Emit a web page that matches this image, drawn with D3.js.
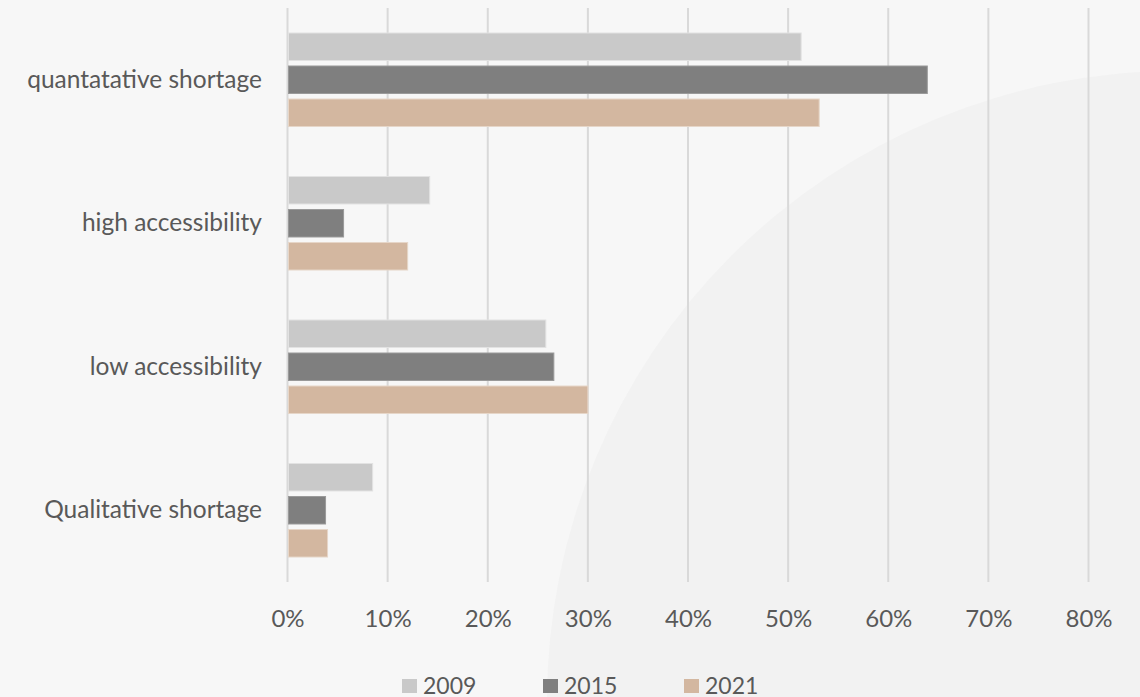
<!DOCTYPE html>
<html><head><meta charset="utf-8">
<script src="https://cdn.jsdelivr.net/npm/d3@7"></script>
<style>html,body{margin:0;padding:0;background:#f7f7f7;overflow:hidden}</style>
</head><body>
<svg id="c" width="1140" height="697"></svg>
<script>
const categories = ["quantatative shortage","high accessibility","low accessibility","Qualitative shortage"];
const seriesNames = ["2009","2015","2021"];
const values2009 = [51.3, 14.2, 25.8, 8.5];
const values2015 = [63.9, 5.6, 26.6, 3.8];
const values2021 = [53.1, 12.0, 30.0, 4.0];
const tickValues = [0,10,20,30,40,50,60,70,80];
const colors = ["#c9c9c9","#7f7f7f","#d3b7a0"];
const strokes = ["#e2e2e2","#9a9a9a","#e6d6c8"];

const series = [values2009, values2015, values2021];
const svg = d3.select("#c");
const W = 1140, H = 697;
svg.append("rect").attr("width",W).attr("height",H).attr("fill","#f7f7f7");
svg.append("circle").attr("cx",1177).attr("cy",701).attr("r",630).attr("fill","#f2f2f2");

const x = d3.scaleLinear().domain([0,80]).range([287.5,1088.5]);
const y = d3.scaleBand().domain(categories).range([8,582]).paddingInner(0).paddingOuter(0);
const yIn = d3.scaleBand().domain(seriesNames).range([0,y.bandwidth()]).paddingInner(0.167).paddingOuter(0.757);

const font = "Lato, 'Open Sans', sans-serif";
// gridlines
svg.append("g").selectAll("line").data(tickValues).join("line")
  .attr("x1",d=>x(d)).attr("x2",d=>x(d)).attr("y1",8).attr("y2",582)
  .attr("stroke","#d9d9d9").attr("stroke-width",2);

// x axis labels
const xAxis = d3.axisBottom(x).tickValues(tickValues).tickFormat(d=>d+"%").tickSize(0).tickPadding(0);
const gx = svg.append("g").attr("transform","translate(0,600)").call(xAxis);
gx.select(".domain").remove();
gx.selectAll("text").attr("font-family",font).attr("font-size",24).attr("fill","#595959").attr("dy","26.5px");

// y axis labels
const yAxis = d3.axisLeft(y).tickSize(0).tickPadding(0);
const gy = svg.append("g").attr("transform","translate(262,0)").call(yAxis);
gy.select(".domain").remove();
gy.selectAll("text").attr("font-family",font).attr("font-size",24.5).attr("fill","#595959");

// bars
const g = svg.append("g");
series.forEach((vals,si)=>{
  g.append("g").selectAll("rect").data(vals).join("rect")
   .attr("x",x(0)+1).attr("y",(d,i)=>y(categories[i])+yIn(seriesNames[si]))
   .attr("width",d=>x(d)-x(0)-1).attr("height",yIn.bandwidth())
   .attr("fill",colors[si]).attr("stroke",strokes[si]).attr("stroke-width",1);
});

// legend
const legX = [402,543,684];
const lg = svg.append("g");
seriesNames.forEach((s,i)=>{
  lg.append("rect").attr("x",legX[i]).attr("y",679).attr("width",15).attr("height",14).attr("fill",colors[i]);
  lg.append("text").attr("x",legX[i]+21).attr("y",686).attr("dy","0.36em")
    .attr("font-family",font).attr("font-size",23).attr("fill","#595959").text(s);
});
</script>
</body></html>
